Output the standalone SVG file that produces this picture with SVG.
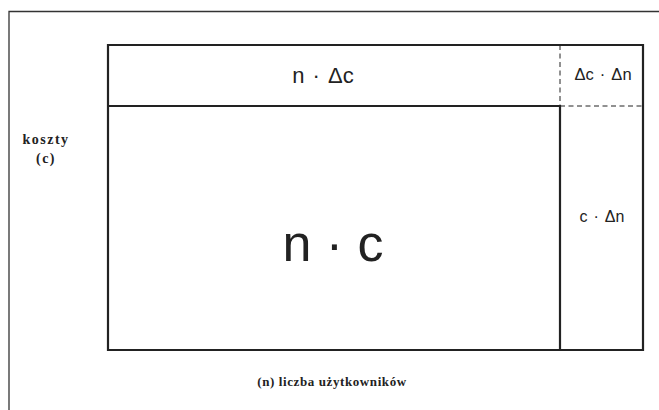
<svg xmlns="http://www.w3.org/2000/svg" width="659" height="410" viewBox="0 0 659 410">
<style>
.s{fill:none;stroke:#222;stroke-width:2.2}
.d{fill:none;stroke:#222;stroke-width:1;stroke-dasharray:5,3.5}
.f{fill:none;stroke:#333;stroke-width:1.3}
.a{font-family:"Liberation Sans",Arial,sans-serif;fill:#222;text-anchor:middle}
.b{font-family:"Liberation Serif","Times New Roman",serif;font-weight:bold;fill:#222;text-anchor:middle}
</style>
<rect width="659" height="410" fill="#fff"/>
<path class="f" d="M9,410 V11.5 H659"/>
<g id="connectors">
<path class="s" d="M108,45 H643 V350 H108 Z"/>
<path class="s" d="M108,106 H560 V350"/>
<path class="d" d="M560,45 V106 M560,106 H643"/>
</g>
<g id="top"><text class="a" x="323" y="83" font-size="22" word-spacing="2">n · Δc</text></g>
<g id="corner"><text class="a" x="603" y="80" font-size="16.5" word-spacing="1.5">Δc · Δn</text></g>
<g id="main"><text class="a" x="333" y="261" font-size="52">n · c</text></g>
<g id="right"><text class="a" x="602" y="222" font-size="16" word-spacing="1.5">c · Δn</text></g>
<g id="ylabel"><text class="b" x="46" y="144" font-size="14" letter-spacing="1.5">koszty</text><text class="b" x="46" y="163" font-size="14" letter-spacing="1.5">(c)</text></g>
<g id="xlabel"><text class="b" x="332" y="386" font-size="13" letter-spacing="0.6">(n) liczba użytkowników</text></g>
</svg>
